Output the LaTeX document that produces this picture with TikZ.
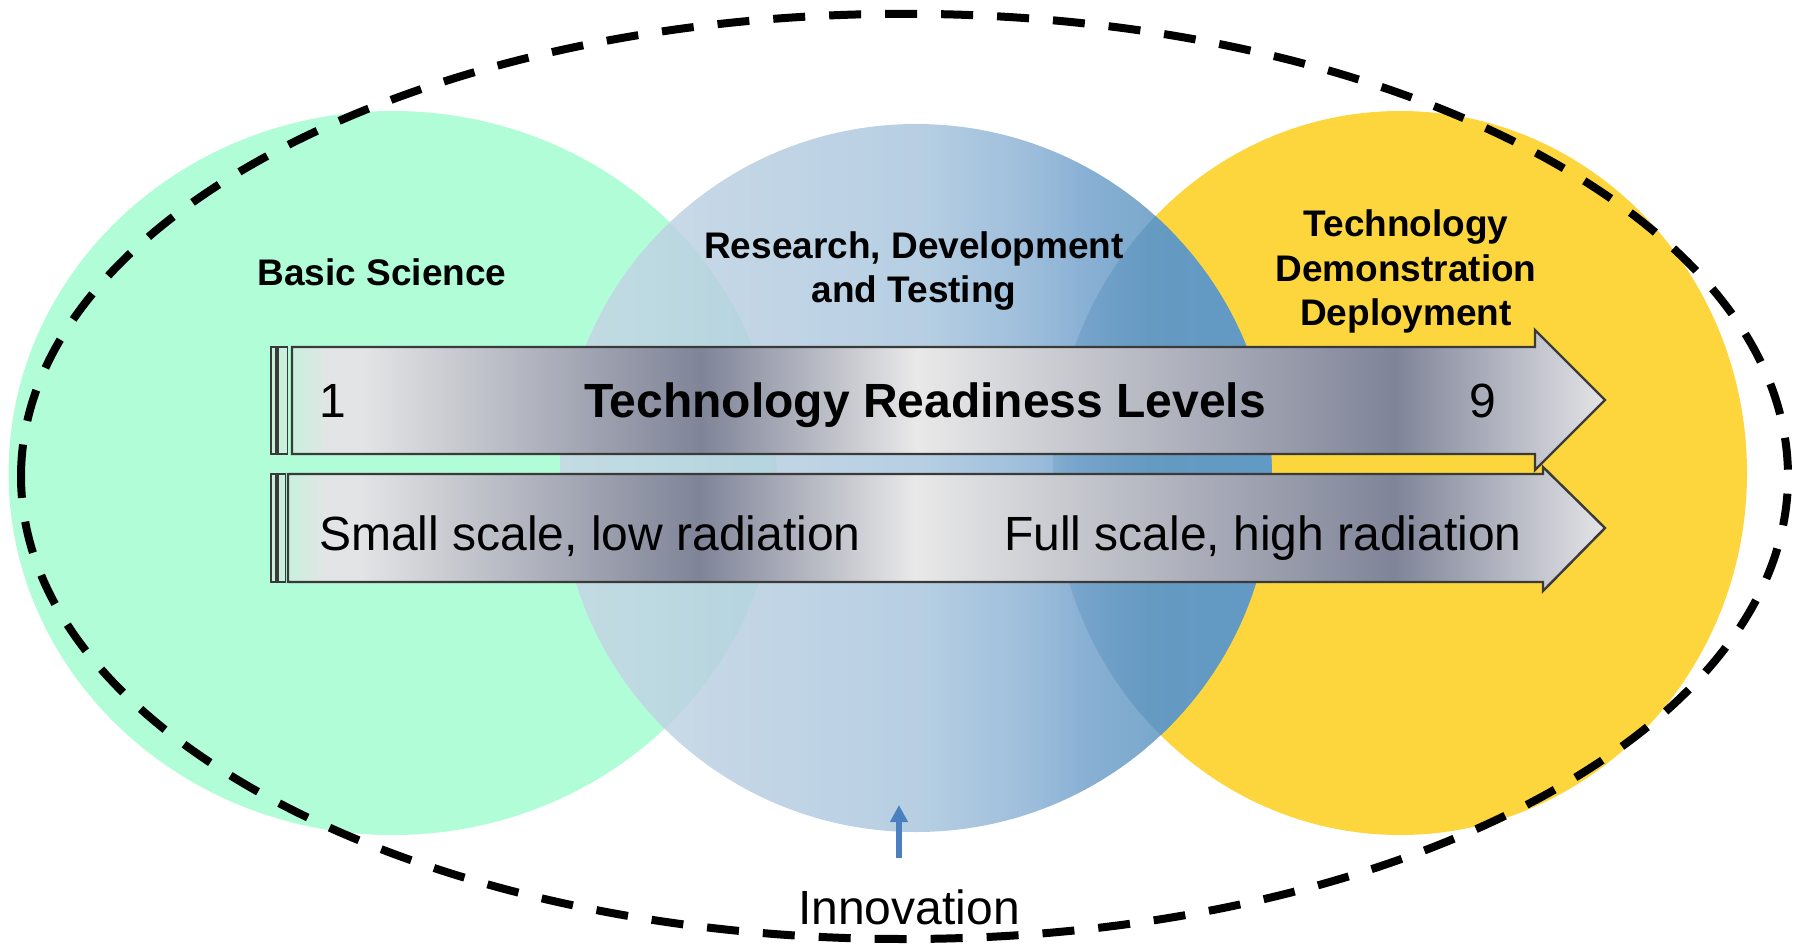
\documentclass[tikz,border=0pt]{standalone}
\usepackage{fontspec}
\setmainfont{Liberation Sans}
\usetikzlibrary{arrows.meta}

\definecolor{bsgreen}{HTML}{B0FDD8}
\definecolor{tdyellow}{HTML}{FDD63E}
\definecolor{blA}{HTML}{C7D7E5}
\definecolor{blB}{HTML}{ABC7DE}
\definecolor{blC}{HTML}{8CB2D5}
\definecolor{blC2}{HTML}{73A2CC}
\definecolor{blD}{HTML}{649AC3}
\definecolor{blE}{HTML}{609AC8}
\definecolor{arA}{HTML}{C8F0DD}
\definecolor{arB}{HTML}{E3E4E5}
\definecolor{arC}{HTML}{7F8498}
\definecolor{arD}{HTML}{E9E9E9}
\definecolor{arE}{HTML}{E4E4E7}
\definecolor{arline}{HTML}{3A3A3A}
\definecolor{stripfill}{HTML}{C9EFDD}
\definecolor{innovblue}{HTML}{4A7FC0}

\pgfdeclarehorizontalshading{rdtblue}{100bp}{color(0bp)=(blA); color(25bp)=(blA); color(50bp)=(blB); color(58bp)=(blC); color(62bp)=(blC2); color(66.4bp)=(blD); color(75bp)=(blE); color(100bp)=(blE)}
\pgfdeclarehorizontalshading{trlshade}{100bp}{color(0bp)=(arA); color(25bp)=(arA); color(26.5bp)=(arB); color(27.7bp)=(arB); color(40.6bp)=(arC); color(48.8bp)=(arD); color(67bp)=(arC); color(75bp)=(arE); color(100bp)=(arE)}

\begin{document}
\begin{tikzpicture}[x=1pt,y=-1pt,
  trlbar/.style={shading=trlshade, draw=arline, line width=2.4pt, line join=miter},
  stripbox/.style={fill=stripfill, draw=arline, line width=1.6pt},
  lbl/.style={font=\fontsize{37}{44}\selectfont\bfseries, anchor=base, inner sep=0pt},
  big/.style={font=\fontsize{48}{56}\selectfont, anchor=base, inner sep=0pt},
  outerdash/.style={draw=black, line width=8pt, dash pattern=on 32pt off 24pt},
  innovarrow/.style={draw=innovblue, line width=6pt, -{Triangle[length=17pt,width=17pt]}}
]
\useasboundingbox (0,0) rectangle (1800,948);

% circles
\fill[bsgreen] (392.6,473) ellipse [x radius=384pt, y radius=362pt];
\fill[tdyellow] (1400,473) ellipse [x radius=347pt, y radius=362pt];
\shade[shading=rdtblue, fill opacity=0.85] (916,478) ellipse [x radius=356pt, y radius=354pt];
\begin{scope}
  \clip (1400,473) ellipse [x radius=347pt, y radius=362pt];
  \shade[shading=rdtblue, fill opacity=0.94] (916,478) ellipse [x radius=356pt, y radius=354pt];
\end{scope}

% top arrow
\shadedraw[trlbar] (292,347) -- (1535,347) -- (1535,330) -- (1605,400) -- (1535,470) -- (1535,454) -- (292,454) -- cycle;
\filldraw[stripbox] (270.7,347) rectangle (276,454);
\filldraw[stripbox] (278,347) rectangle (287.5,454);

% bottom arrow
\shadedraw[trlbar] (288,474) -- (1543,474) -- (1543,467) -- (1605,528) -- (1543,591) -- (1543,582) -- (288,582) -- cycle;
\filldraw[stripbox] (270.7,474) rectangle (276,582);
\filldraw[stripbox] (278,474) rectangle (285.5,582);

% outer dashed ellipse (starts at its left end)
\coordinate (oc) at (904.5,476.4);
\draw[outerdash] ([xshift=-883.5pt]oc) arc [start angle=180, end angle=-180, x radius=883.5pt, y radius=462.6pt];

% labels
\node[lbl] (bs) at (382,285) {Basic Science};
\node[lbl] (rdt1) at (914,258) {Research, Development};
\node[lbl] (rdt2) at (914,302) {and Testing};
\node[lbl] (tdd1) at (1406,236) {Technology};
\node[lbl] (tdd2) at (1406,281) {Demonstration};
\node[lbl] (tdd3) at (1406,325) {Deployment};

\node[big, anchor=base west] (one) at (319,417) {1};
\node[big, font=\fontsize{48}{56}\selectfont\bfseries] (trl) at (925,417) {Technology Readiness Levels};
\node[big] (nine) at (1483,417) {9};
\node[big, anchor=base west] (small) at (319,550) {Small scale, low radiation};
\node[big, anchor=base east] (full) at (1522,550) {Full scale, high radiation};

\node[big] (innov) at (909,924) {Innovation};
\coordinate (innovtip) at (899,805);
\draw[innovarrow] ([yshift=31pt]innov.north -| innovtip) -- (innovtip);
\end{tikzpicture}
\end{document}
